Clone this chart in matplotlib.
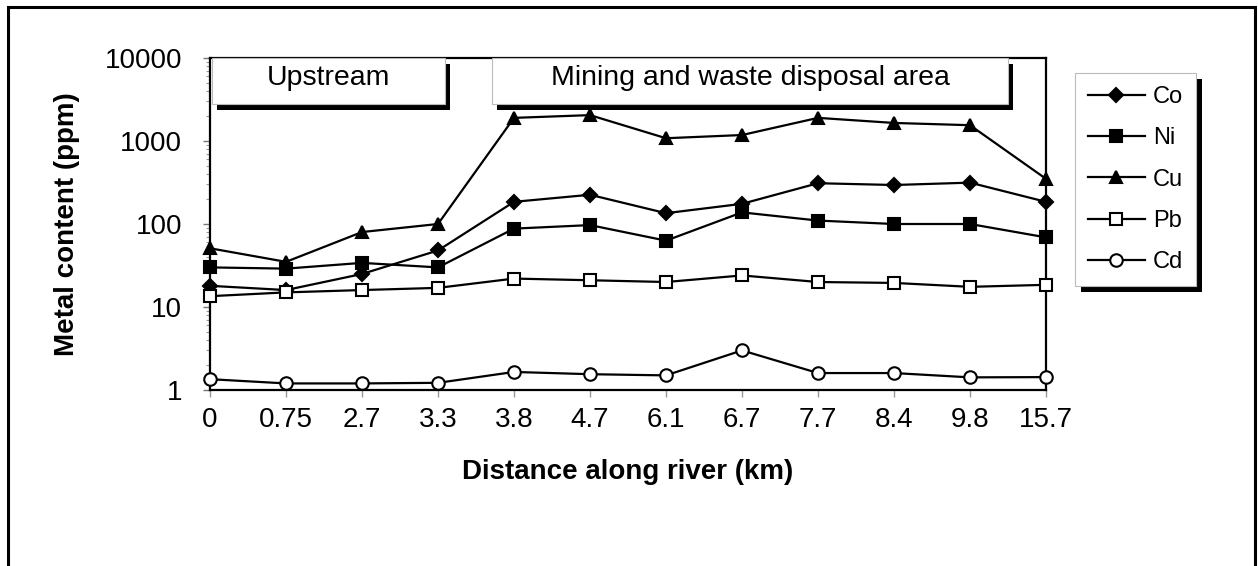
import matplotlib
matplotlib.use("Agg")
import matplotlib.pyplot as plt
import matplotlib.transforms as mtransforms
from matplotlib.patches import Rectangle

plt.rcParams["font.family"] = ["Liberation Sans", "DejaVu Sans"]

# distance along river (km) - plotted as evenly spaced categories
distances = ["0", "0.75", "2.7", "3.3", "3.8", "4.7", "6.1", "6.7", "7.7", "8.4", "9.8", "15.7"]

co = [18, 16, 25, 48, 185, 225, 135, 175, 310, 295, 315, 185]
ni = [30, 29, 34, 30, 88, 97, 63, 138, 110, 100, 100, 69]
cu = [51, 35, 80, 100, 1900, 2050, 1080, 1180, 1900, 1650, 1550, 350]
pb = [13.5, 15, 16, 17, 22, 21, 20, 24, 20, 19.5, 17.5, 18.5]
cd = [1.35, 1.2, 1.2, 1.22, 1.65, 1.55, 1.5, 3.0, 1.6, 1.6, 1.42, 1.43]

W, H = 1258, 566
fig = plt.figure(figsize=(W / 100, H / 100), dpi=100)
ax = fig.add_axes([210 / W, 1 - 390 / H, 836 / W, 332 / H])

x = list(range(len(distances)))
style = dict(color="black", lw=1.6, mew=1.5, mec="black", clip_on=False, zorder=4)
ax.plot(x, co, marker="D", ms=7, mfc="black", label="Co", **style)
ax.plot(x, ni, marker="s", ms=9, mfc="black", label="Ni", **style)
ax.plot(x, cu, marker="^", ms=9, mfc="black", label="Cu", **style)
ax.plot(x, pb, marker="s", ms=9, mfc="white", label="Pb", **style)
ax.plot(x, cd, marker="o", ms=9, mfc="white", label="Cd", **style)

ax.set_yscale("log")
ax.set_ylim(1, 10000)
ax.set_xlim(0, len(distances) - 1)
ax.set_yticks([1, 10, 100, 1000, 10000])
ax.set_yticklabels(["1", "10", "100", "1000", "10000"])
ax.set_xticks(x)
ax.set_xticklabels(distances)

ax.tick_params(axis="y", which="major", direction="out", length=5, width=1,
               color="#777777", labelsize=20, pad=15)
ax.tick_params(axis="y", which="minor", direction="out", length=3, width=0.8,
               color="#999999")
ax.tick_params(axis="x", direction="out", length=5, width=1, color="#999999",
               labelsize=20, pad=7)
for s in ax.spines.values():
    s.set_linewidth(1.6)
    s.set_color("black")

ax.set_xlabel("Distance along river (km)", fontsize=20, fontweight="bold", labelpad=19)
ax.set_ylabel("Metal content (ppm)", fontsize=20, fontweight="bold", labelpad=18)

# text boxes with drop shadows
shadow_tr = mtransforms.offset_copy(ax.transAxes, fig=fig, x=5, y=-6, units="dots")
boxes = [((2 / 836, 1 - 46 / 332), 233 / 836, "Upstream"),
         ((282 / 836, 1 - 46 / 332), 516 / 836, "Mining and waste disposal area")]
for (bx, by), bw, label in boxes:
    bh = 1 - by
    ax.add_patch(Rectangle((bx, by), bw, bh, transform=shadow_tr, facecolor="black",
                           edgecolor="none", clip_on=False, zorder=5))
    ax.add_patch(Rectangle((bx, by), bw, bh, transform=ax.transAxes, facecolor="white",
                           edgecolor="#bbbbbb", lw=0.8, clip_on=False, zorder=6))
    ax.text(bx + bw / 2, by + bh / 2 + 0.01, label, transform=ax.transAxes,
            ha="center", va="center", fontsize=20.5, zorder=7)

leg = fig.legend(loc="upper left", bbox_to_anchor=(1075 / W, 1 - 73 / H),
                 fontsize=17, frameon=True, fancybox=False, edgecolor="#bbbbbb",
                 facecolor="white", framealpha=1,
                 handlelength=2.4, handletextpad=0.34, labelspacing=0.82,
                 borderpad=0.55, borderaxespad=0)
leg.get_frame().set_linewidth(0.8)

fig.canvas.draw()
bb = leg.get_window_extent().transformed(fig.transFigure.inverted())
fig.add_artist(Rectangle((bb.x0 + 6 / W, bb.y0 - 6 / H), bb.width, bb.height,
                         transform=fig.transFigure, facecolor="black",
                         edgecolor="none", zorder=4))
leg.set_zorder(6)

# outer frame (open at the bottom edge)
fig.add_artist(Rectangle((8 / W, -0.05), 1247 / W, 1.05 - 7 / H,
                         transform=fig.transFigure, fill=False, edgecolor="black",
                         lw=2.2, zorder=10))

fig.savefig("out.png", dpi=100)
